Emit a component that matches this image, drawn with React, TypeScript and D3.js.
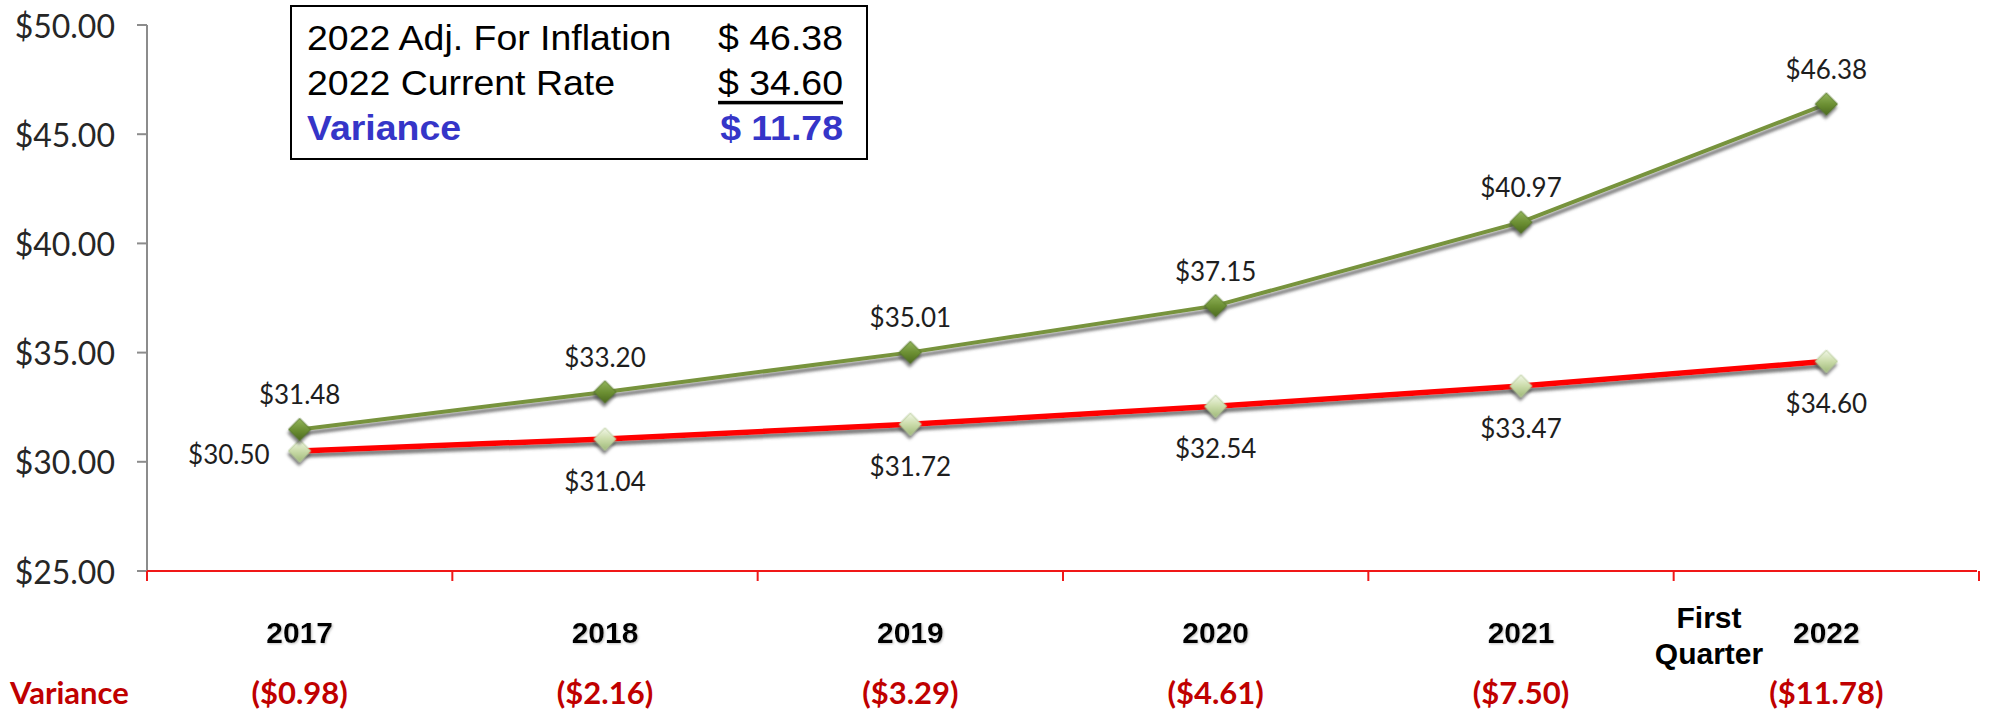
import React from "react";
import * as d3 from "d3";

const categories = ["2017", "2018", "2019", "2020", "2021", "2022"];
const adjustedForInflation = [31.48, 33.2, 35.01, 37.15, 40.97, 46.38];
const currentRate = [30.5, 31.04, 31.72, 32.54, 33.47, 34.6];
const varianceLabels = ["($0.98)", "($2.16)", "($3.29)", "($4.61)", "($7.50)", "($11.78)"];
const yTickValues = [25, 30, 35, 40, 45, 50];
const boxLabels = ["2022 Adj. For Inflation", "2022 Current Rate", "Variance"];
const boxValues = ["$ 46.38", "$ 34.60", "$ 11.78"];
const quarterNote = ["First", "Quarter"];

const W = 1996;
const H = 712;
const plotLeft = 147;
const plotRight = 1979;
const plotTop = 25;
const plotBottom = 571;

export default function App() {
  const x = d3.scalePoint<string>().domain(categories).range([plotLeft, plotRight]).padding(0.5);
  const step = x.step();
  const y = d3.scaleLinear().domain([25, 50]).range([plotBottom, plotTop]);
  const line = d3
    .line<number>()
    .x((_, i) => x(categories[i]) as number)
    .y((d) => y(d));
  const diamond = d3.symbol().type(d3.symbolSquare).size(250)() as string;
  const firstCenter = x(categories[0]) as number;
  const boundaries = d3.range(categories.length + 1).map((i) => firstCenter - step / 2 + i * step);

  const labelFont = "Lato, 'Open Sans', sans-serif";
  const boxFont = "'Liberation Sans', Arial, sans-serif";
  const boxTextLeft = 307;
  const boxTextRight = 843;
  const boxStretch = 1.07;

  return (
    <svg width={W} height={H} style={{ position: "absolute", left: 0, top: 0, background: "#fff" }}>
      <defs>
        <filter id="lineShadow" x="-5%" y="-20%" width="110%" height="160%">
          <feDropShadow dx="2" dy="4" stdDeviation="1.6" floodColor="#555" floodOpacity="0.75" />
        </filter>
        <filter id="markerShadow" x="-50%" y="-50%" width="200%" height="200%">
          <feDropShadow dx="2" dy="3" stdDeviation="1.5" floodColor="#444" floodOpacity="0.7" />
        </filter>
        <filter id="blurAxis" x="-5%" y="-200%" width="110%" height="500%">
          <feGaussianBlur stdDeviation="2.5" />
        </filter>
        <filter id="textShadow" x="-10%" y="-30%" width="120%" height="160%">
          <feDropShadow dx="1" dy="1" stdDeviation="1" floodColor="#999" floodOpacity="0.6" />
        </filter>
        <linearGradient id="darkGreen" x1="0" y1="0" x2="1" y2="1">
          <stop offset="0%" stopColor="#93b65c" />
          <stop offset="55%" stopColor="#6a8d31" />
          <stop offset="100%" stopColor="#4c6a1f" />
        </linearGradient>
        <linearGradient id="lightGreen" x1="0" y1="0" x2="1" y2="1">
          <stop offset="0%" stopColor="#f2f7e8" />
          <stop offset="50%" stopColor="#cbdcaa" />
          <stop offset="100%" stopColor="#9fb979" />
        </linearGradient>
      </defs>

      {/* Y axis */}
      <line x1={plotLeft} x2={plotLeft} y1={plotTop} y2={plotBottom} stroke="#8c8c8c" strokeWidth={2} />
      {yTickValues.map((t) => (
        <g key={t}>
          <line x1={plotLeft - 10} x2={plotLeft} y1={y(t)} y2={y(t)} stroke="#8c8c8c" strokeWidth={2} />
          <text
            x={115}
            y={y(t)}
            textAnchor="end"
            dominantBaseline="central"
            fontFamily={labelFont}
            fontSize={32}
            fill="#262626"
          >
            {"$" + d3.format(".2f")(t)}
          </text>
        </g>
      ))}

      {/* X axis shadow */}
      <line x1={plotLeft} x2={plotRight - 2} y1={plotBottom + 6} y2={plotBottom + 6} stroke="#b0b0b0" strokeWidth={7} filter="url(#blurAxis)" />
      {boundaries.map((bx, i) => (
        <line key={"ts" + i} x1={bx + 1} x2={bx + 1} y1={plotBottom + 4} y2={plotBottom + 16} stroke="#bbb" strokeWidth={3} filter="url(#blurAxis)" />
      ))}
      {/* X axis */}
      <line x1={plotLeft} x2={plotRight - 2} y1={plotBottom} y2={plotBottom} stroke="#f01818" strokeWidth={2} />
      {boundaries.map((bx, i) => (
        <line key={"t" + i} x1={bx} x2={bx} y1={plotBottom} y2={plotBottom + 10} stroke="#f01818" strokeWidth={2} />
      ))}

      {/* Lines */}
      <path d={line(currentRate) as string} fill="none" stroke="#ff0000" strokeWidth={5.5} filter="url(#lineShadow)" />
      <path d={line(adjustedForInflation) as string} fill="none" stroke="#77933c" strokeWidth={4} filter="url(#lineShadow)" />

      {/* Markers */}
      {currentRate.map((v, i) => (
        <path
          key={"cm" + i}
          d={diamond}
          transform={`translate(${x(categories[i])},${y(v)}) rotate(45)`}
          fill="url(#lightGreen)"
          stroke="#b4c996"
          strokeWidth={0.8}
          filter="url(#markerShadow)"
        />
      ))}
      {adjustedForInflation.map((v, i) => (
        <path
          key={"am" + i}
          d={diamond}
          transform={`translate(${x(categories[i])},${y(v)}) rotate(45)`}
          fill="url(#darkGreen)"
          stroke="#56752a"
          strokeWidth={0.8}
          filter="url(#markerShadow)"
        />
      ))}

      {/* Data labels */}
      {adjustedForInflation.map((v, i) => (
        <text
          key={"al" + i}
          x={x(categories[i])}
          y={y(v) - 35}
          textAnchor="middle"
          dominantBaseline="central"
          fontFamily={labelFont}
          fontSize={26}
          fill="#1e1e1e"
        >
          {"$" + d3.format(".2f")(v)}
        </text>
      ))}
      {currentRate.map((v, i) => (
        <text
          key={"cl" + i}
          x={i === 0 ? (x(categories[i]) as number) - 30 : x(categories[i])}
          y={i === 0 ? y(v) + 3 : y(v) + 42}
          textAnchor={i === 0 ? "end" : "middle"}
          dominantBaseline="central"
          fontFamily={labelFont}
          fontSize={26}
          fill="#1e1e1e"
        >
          {"$" + d3.format(".2f")(v)}
        </text>
      ))}

      {/* Category labels */}
      {categories.map((c) => (
        <text
          key={"c" + c}
          x={x(c)}
          y={632}
          textAnchor="middle"
          dominantBaseline="central"
          fontFamily={boxFont}
          fontWeight="bold"
          fontSize={30}
          fill="#000"
          filter="url(#textShadow)"
        >
          {c}
        </text>
      ))}
      {quarterNote.map((t, i) => (
        <text
          key={"q" + i}
          x={1709}
          y={617 + i * 36}
          textAnchor="middle"
          dominantBaseline="central"
          fontFamily={boxFont}
          fontWeight="bold"
          fontSize={30}
          fill="#000"
        >
          {t}
        </text>
      ))}

      {/* Variance row */}
      <text x={10} y={692} dominantBaseline="central" fontFamily={labelFont} fontWeight="bold" fontSize={31} fill="#c00000">
        Variance
      </text>
      {varianceLabels.map((t, i) => (
        <text
          key={"v" + i}
          x={x(categories[i])}
          y={692}
          textAnchor="middle"
          dominantBaseline="central"
          fontFamily={labelFont}
          fontWeight="bold"
          fontSize={31}
          fill="#c00000"
        >
          {t}
        </text>
      ))}

      {/* Summary box */}
      <rect x={291} y={6} width={576} height={153} fill="#fff" stroke="#000" strokeWidth={2} />
      <g transform={`translate(${boxTextLeft},0) scale(${boxStretch},1)`}>
        {boxLabels.map((t, i) => (
          <text
            key={"bl" + i}
            x={0}
            y={38 + i * 45}
            dominantBaseline="central"
            fontFamily={boxFont}
            fontWeight={i === 2 ? "bold" : "normal"}
            fontSize={35}
            fill={i === 2 ? "#3535c8" : "#000"}
          >
            {t}
          </text>
        ))}
        {boxValues.map((t, i) => (
          <text
            key={"bv" + i}
            x={(boxTextRight - boxTextLeft) / boxStretch}
            y={38 + i * 45}
            textAnchor="end"
            dominantBaseline="central"
            fontFamily={boxFont}
            fontWeight={i === 2 ? "bold" : "normal"}
            fontSize={35}
            fill={i === 2 ? "#3535c8" : "#000"}
            textDecoration={i === 1 ? "underline" : undefined}
          >
            {t}
          </text>
        ))}
      </g>
    </svg>
  );
}
